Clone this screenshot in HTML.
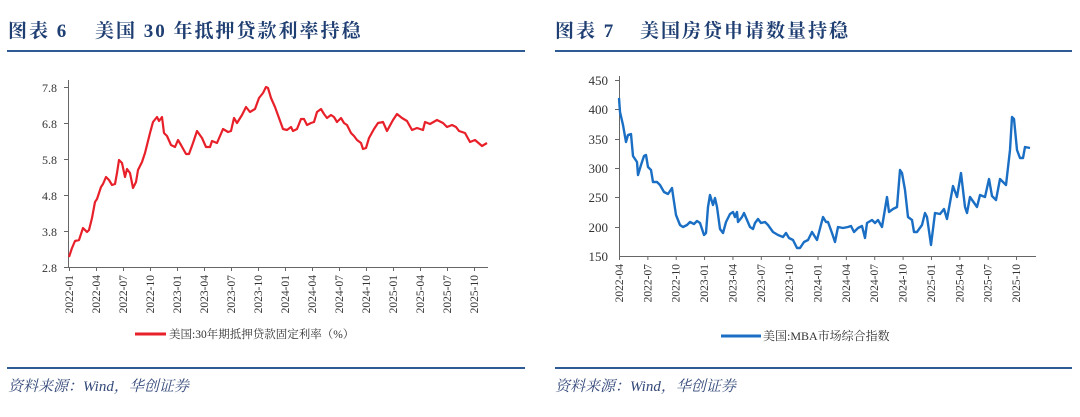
<!DOCTYPE html>
<html><head><meta charset="utf-8"><style>
body{margin:0;background:#fff;width:1080px;height:412px;overflow:hidden}
svg text{font-family:"Liberation Serif","Noto Serif CJK SC",serif}
</style></head><body>
<svg width="1080" height="412" viewBox="0 0 1080 412" xmlns="http://www.w3.org/2000/svg">
<g fill="#1f3f73" font-weight="bold" font-size="19" letter-spacing="2">
<text x="8" y="37">图表 6</text><text x="95" y="37">美国 30 年抵押贷款利率持稳</text>
<text x="555" y="37">图表 7</text><text x="640" y="37">美国房贷申请数量持稳</text>
</g>
<g stroke="#2e5a96" stroke-width="2">
<line x1="7" y1="51" x2="525" y2="51"/><line x1="555" y1="51" x2="1072" y2="51"/>
<line x1="7" y1="368" x2="525" y2="368"/><line x1="555" y1="368" x2="1072" y2="368"/>
</g>
<g fill="#34497a" font-style="italic" font-size="15">
<text x="8" y="391">资料来源：Wind，华创证券</text><text x="555" y="391">资料来源：Wind，华创证券</text>
</g>
<!-- left chart -->
<g stroke="#666" stroke-width="1" fill="none">
<line x1="68.5" y1="80" x2="68.5" y2="267"/><line x1="68" y1="267.5" x2="488" y2="267.5"/>
</g>
<g stroke="#666"><line x1="64" y1="87.5" x2="68" y2="87.5"/><line x1="64" y1="123.5" x2="68" y2="123.5"/><line x1="64" y1="159.5" x2="68" y2="159.5"/><line x1="64" y1="195.5" x2="68" y2="195.5"/><line x1="64" y1="231.5" x2="68" y2="231.5"/><line x1="64" y1="267.5" x2="68" y2="267.5"/></g>
<g font-size="12" fill="#333" text-anchor="end">
<text x="57" y="92">7.8</text><text x="57" y="128">6.8</text><text x="57" y="164">5.8</text><text x="57" y="200">4.8</text><text x="57" y="236">3.8</text><text x="57" y="272">2.8</text>
</g>
<g font-size="11.5" fill="#333" text-anchor="end" id="lt"></g>
<polyline fill="none" stroke="#e8202a" stroke-width="2.2" stroke-linejoin="round" points="69,257 72,248 75,241 79,240 83,228 87,232 89,230 92,218 95,202 97,199 101,187 103,184 106,177 109,180 112,185 115,184 117,173 119,160 122,163 125,177 127,169 130,173 133,188 136,182 138,170 142,162 145,153 147,145 150,133 153,122 157,117 159,121 162,117 164,133 167,136 171,145 175,147 178,140 181,145 186,154 189,154 193,143 197,131 202,138 206,147 210,147 212,141 217,143 223,129 228,132 231,131 234,118 237,123 242,115 246,107 250,112 255,109 259,98 263,93 266,87 268,88 271,98 275,107 279,118 283,129 287,130 291,127 293,131 297,129 301,119 304,119 307,125 311,123 314,122 317,112 321,109 324,114 327,118 331,115 334,117 337,122 341,118 344,123 347,125 351,133 354,136 357,140 361,143 363,149 366,148 369,138 374,129 378,123 383,122 387,131 393,120 397,114 402,118 407,121 412,130 417,128 423,130 425,122 430,124 437,120 443,123 447,127 452,125 456,127 459,131 465,133 470,142 475,140 482,146 487,143"/>
<line x1="135" y1="334" x2="166" y2="334" stroke="#e8202a" stroke-width="3"/>
<text x="169" y="338" font-size="11.5" fill="#333">美国:30年期抵押贷款固定利率（%）</text>
<!-- right chart -->
<g stroke="#666" stroke-width="1" fill="none">
<line x1="619.5" y1="76" x2="619.5" y2="256"/><line x1="619" y1="256.5" x2="1036" y2="256.5"/>
</g>
<g stroke="#666"><line x1="615" y1="80.5" x2="619" y2="80.5"/><line x1="615" y1="109.5" x2="619" y2="109.5"/><line x1="615" y1="139.5" x2="619" y2="139.5"/><line x1="615" y1="168.5" x2="619" y2="168.5"/><line x1="615" y1="197.5" x2="619" y2="197.5"/><line x1="615" y1="227.5" x2="619" y2="227.5"/></g>
<g font-size="13" fill="#333" text-anchor="end">
<text x="608" y="85">450</text><text x="608" y="114">400</text><text x="608" y="144">350</text><text x="608" y="173">300</text><text x="608" y="202">250</text><text x="608" y="232">200</text><text x="608" y="261">150</text>
</g>
<g font-size="11.5" fill="#333" text-anchor="end" id="rt"></g>
<polyline fill="none" stroke="#1a6fc4" stroke-width="2.4" stroke-linejoin="round" points="619,98 620,112 623,125 626,142 628,135 631,134 633,156 637,162 638,175 641,165 644,156 646,155 648,167 651,170 653,182 657,182 660,185 664,192 668,194 672,188 673,195 676,215 680,225 683,227 687,225 690,222 694,224 697,221 700,223 704,235 706,233 708,207 710,195 713,205 715,198 717,207 720,229 723,233 726,222 730,214 733,212 735,217 737,212 738,222 742,217 744,213 747,220 750,227 753,229 755,223 758,219 761,223 765,222 768,225 773,232 778,235 783,237 786,233 789,238 793,240 797,248 800,248 804,242 808,240 812,232 817,240 823,217 826,222 828,222 832,233 835,242 838,227 843,228 848,227 851,226 854,232 858,228 862,226 865,238 867,223 872,220 875,223 878,220 882,227 887,197 889,212 893,209 897,207 900,170 902,173 905,190 908,217 912,220 914,232 917,232 922,225 925,213 927,217 931,245 935,213 940,214 944,209 947,219 953,186 957,197 961,173 965,207 967,213 970,197 977,207 980,195 985,197 989,179 992,196 996,200 1000,179 1006,185 1010,150 1012,117 1014,119 1017,150 1020,158 1023,158 1025,147 1030,148"/>
<line x1="721" y1="336" x2="761" y2="336" stroke="#1a6fc4" stroke-width="3"/>
<text x="763" y="340" font-size="12" fill="#333">美国:MBA市场综合指数</text>
<g id="ticks" stroke="#666"></g>
</svg>
<script>
var ns="http://www.w3.org/2000/svg";
function lab(g,x,y,t){var e=document.createElementNS(ns,"text");e.setAttribute("transform","translate("+(x+4)+","+y+") rotate(-90)");e.textContent=t;document.getElementById(g).appendChild(e);
var l=document.createElementNS(ns,"line");l.setAttribute("x1",x+.5);l.setAttribute("x2",x+.5);l.setAttribute("y1",y-8);l.setAttribute("y2",y-4);document.getElementById("ticks").appendChild(l);}
var L=[];for(var yr=2022;yr<=2025;yr++)for(var m of ["01","04","07","10"])L.push(yr+"-"+m);
for(var i=0;i<16;i++)lab("lt",69+i*27,275,L[i]);
for(var i=0;i<15;i++)lab("rt",619+i*28.36,264,L[i+1]);
</script>
</body></html>
